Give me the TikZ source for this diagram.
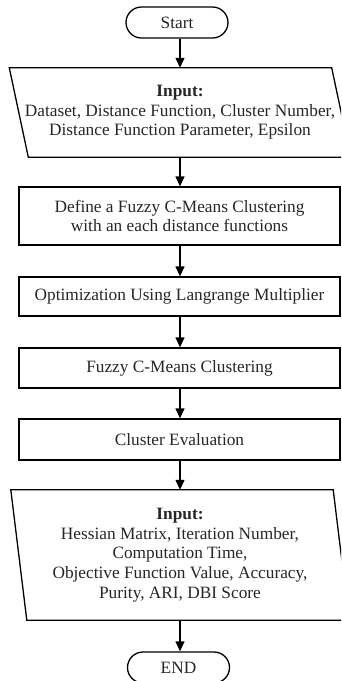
\documentclass[tikz,border=0pt]{standalone}
\usepackage{fontspec}
\setmainfont{Liberation Serif}
\usetikzlibrary{arrows.meta}
\begin{document}
\begin{tikzpicture}[x=1pt,y=1pt,
  every node/.style={font=\fontsize{17.3}{19.6}\selectfont, align=center, inner sep=0pt, text=black!85},
  term/.style={draw, line width=1.3pt, rounded corners=15.5pt, minimum width=102pt, minimum height=31pt},
  procbox/.style={draw, line width=1.3pt, minimum width=321pt},
  iobox/.style={minimum width=322pt},
  flow/.style={line width=1.3pt, -{Triangle[length=10pt,width=9pt]}},
  ioline/.style={line width=1.3pt, line join=miter}
]
\clip (0,0) rectangle (341,-681);
\useasboundingbox (0,0) rectangle (341,-681);

\node[term] (start) at (177,-22.5) {Start};

\node[iobox, minimum height=89pt] (in1) at (180,-112.5)
  {\textbf{Input:}\\Dataset, Distance Function, Cluster Number,\\Distance Function Parameter, Epsilon};
\draw[ioline] ([xshift=-9.5pt]in1.north west) -- ([xshift=-9.5pt]in1.north east)
  -- ([xshift=9.5pt]in1.south east) -- ([xshift=9.5pt]in1.south west) -- cycle;

\node[procbox, minimum height=58pt] (def) at (179.5,-216)
  {Define a Fuzzy C-Means Clustering\\with an each distance functions};
\node[procbox, minimum height=39pt] (opt) at (179.5,-296.5)
  {Optimization Using Langrange Multiplier};
\node[procbox, minimum height=40pt] (fcm) at (179.5,-368)
  {Fuzzy C-Means Clustering};
\node[procbox, minimum height=41pt] (eval) at (179.5,-439.5)
  {Cluster Evaluation};

\node[iobox, minimum height=130pt] (out) at (180,-555)
  {\textbf{Input:}\\Hessian Matrix, Iteration Number,\\Computation Time,\\Objective Function Value, Accuracy,\\Purity, ARI, DBI Score};
\draw[ioline] ([xshift=-8pt]out.north west) -- ([xshift=-8pt]out.north east)
  -- ([xshift=8pt]out.south east) -- ([xshift=8pt]out.south west) -- cycle;

\node[term] (end) at (178.5,-667.5) {END};

\draw[flow] (start.south -| in1.north) -- (in1.north);
\draw[flow] (in1.south) -- (def.north -| in1.south);
\draw[flow] (def.south -| in1.south) -- (opt.north -| in1.south);
\draw[flow] (opt.south -| in1.south) -- (fcm.north -| in1.south);
\draw[flow] (fcm.south -| in1.south) -- (eval.north -| in1.south);
\draw[flow] (eval.south -| out.north) -- (out.north);
\draw[flow] (out.south) -- (end.north -| out.south);
\end{tikzpicture}
\end{document}
